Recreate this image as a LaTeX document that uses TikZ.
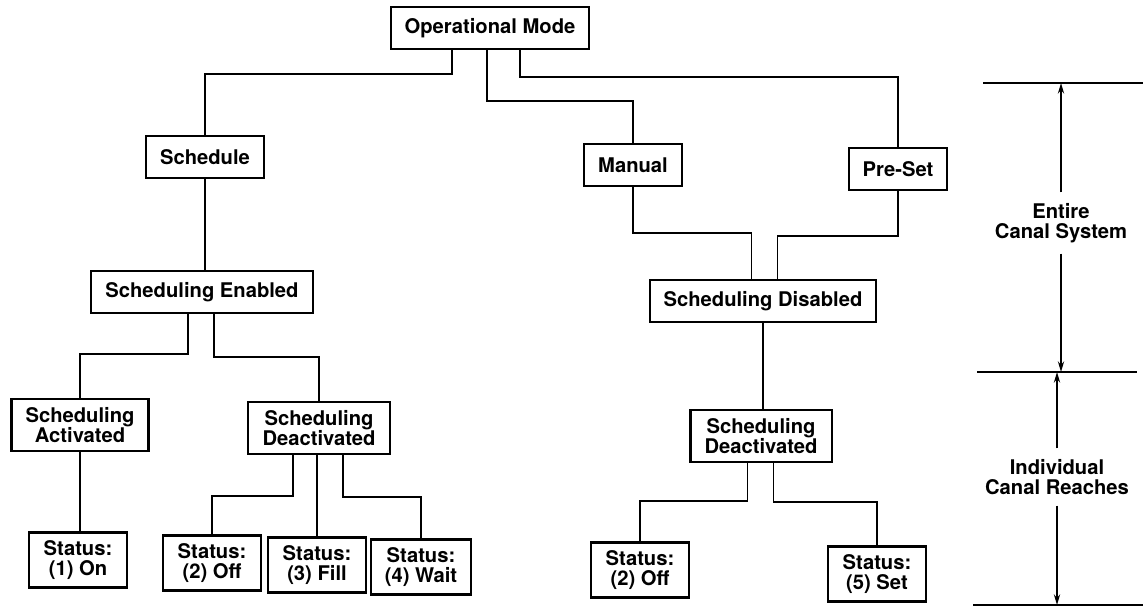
\documentclass[tikz,border=0pt]{standalone}
\usepackage{fontspec}
\setmainfont{TeX Gyre Heros}
\usetikzlibrary{arrows.meta}

\begin{document}
\begin{tikzpicture}[x=0.02cm, y=-0.02cm,
        box/.style={draw, line width=1.2pt, font=\bfseries\fontsize{11.5}{11.5}\selectfont,
            align=center, inner xsep=8pt, inner ysep=4.5pt, minimum height=0.84cm},
        statusbox/.style={box, minimum width=1.95cm},
        link/.style={line width=1.1pt},
        rule/.style={line width=1.2pt},
        span/.style={line width=1.1pt, -{Stealth[length=6pt, width=3.5pt]}},
        spanlabel/.style={font=\bfseries\fontsize{11.5}{11.5}\selectfont, align=center, inner ysep=6pt}]
    \useasboundingbox (0,0) rectangle (1143,607);
    % top level
    \node (mode) at (490,28) [box] {Operational Mode};
    \node (sched) at (205,157) [box] {Schedule};
    \node (manual) at (633,165) [box] {Manual};
    \node (preset) at (898,169) [box] {Pre-Set};
    \node (enabled) at (202,292) [box] {Scheduling Enabled};
    \node (disabled) at (763,301) [box] {Scheduling Disabled};
    % left branch
    \node (act) at (80,425) [box] {Scheduling\\Activated};
    \node (deactL) at (319,428) [box] {Scheduling\\Deactivated};
    \node (on) at (78,560) [statusbox] {Status:\\(1) On};
    \node (offL) at (212,563) [statusbox] {Status:\\(2) Off};
    \node (fill) at (317,565) [statusbox] {Status:\\(3) Fill};
    \node (wait) at (421,567) [statusbox] {Status:\\(4) Wait};
    % right branch
    \node (deactR) at (761,436) [box] {Scheduling\\Deactivated};
    \node (offR) at (640,570) [statusbox] {Status:\\(2) Off};
    \node (set) at (877,574) [statusbox] {Status:\\(5) Set};

    \draw[link] ([xshift=-0.76cm]mode.south) -- ++(0,24) -| (sched.north);
    \draw[link] ([xshift=-0.06cm]mode.south) -- ++(0,51) -| (manual.north);
    \draw[link] ([xshift=0.6cm]mode.south) -- ++(0,27) -| (preset.north);
    \draw[link] (sched.south) -- (sched.south |- enabled.north);
    \draw[link] (manual.south) -- ++(0,46) -| ([xshift=-0.23cm]disabled.north);
    \draw[link] (preset.south) -- ++(0,45) -| ([xshift=0.29cm]disabled.north);
    \draw[link] ([xshift=-0.28cm]enabled.south) -- ++(0,40) -| (act.north);
    \draw[link] ([xshift=0.24cm]enabled.south) -- ++(0,43) -| (deactL.north);
    \draw[link] (act.south) -- (act.south |- on.north);
    \draw[link] ([xshift=-0.52cm]deactL.south) -- ++(0,41) -| (offL.north);
    \draw[link] ([xshift=-0.04cm]deactL.south) -- (deactL.south -| fill.north) -- (fill.north);
    \draw[link] ([xshift=0.48cm]deactL.south) -- ++(0,42) -| (wait.north);
    \draw[link] (disabled.south) -- (disabled.south |- deactR.north);
    \draw[link] ([xshift=-0.27cm]deactR.south) -- ++(0,38) -| (offR.north);
    \draw[link] ([xshift=0.25cm]deactR.south) -- ++(0,39) -| (set.north);

    % extent scale
    \coordinate (topL) at (983,83);
    \coordinate (topR) at (1143,83);
    \coordinate (midL) at (977,372);
    \coordinate (midR) at (1137,372);
    \coordinate (botL) at (973,605);
    \coordinate (botR) at (1143,605);
    \draw[rule] (topL) -- (topR);
    \draw[rule] (midL) -- (midR);
    \draw[rule] (botL) -- (botR);
    \node (entire) at (1061,223) [spanlabel] {Entire\\Canal System};
    \node (reaches) at (1057,477) [spanlabel] {Individual\\Canal Reaches};
    \draw[span] (entire.north) -- (entire.north |- topL);
    \draw[span] (entire.south) -- (entire.south |- midL);
    \draw[span] (reaches.north) -- (reaches.north |- midL);
    \draw[span] (reaches.south) -- (reaches.south |- botL);
\end{tikzpicture}
\end{document}
